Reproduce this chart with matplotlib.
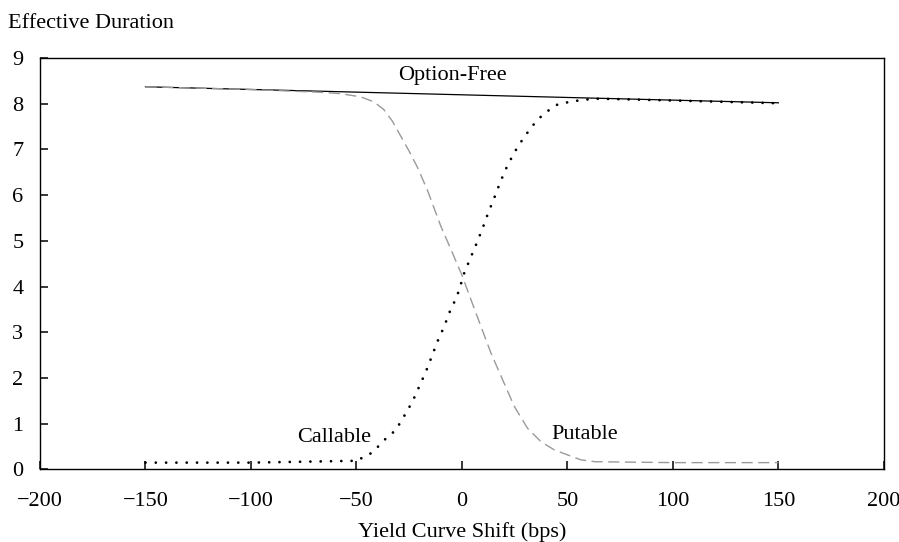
import numpy as np
from matplotlib import pyplot as plt

plt.rcParams['font.family'] = ['Liberation Serif', 'DejaVu Serif']
plt.rcParams['axes.unicode_minus'] = True

# option-free
x_free = [-150, 150]
y_free = [8.37, 8.02]

# callable (dotted)
x_call = [-150, -100, -50, -42.5, -36, -31.4, -27.5, -23.5, -20.3, -17.1, -14.4, -11.6,
          -8.4, -5.7, -2.4, 0, 1.1, 4, 7, 9.9, 12.5, 15.4, 18.2, 21.3, 24.9, 28.9, 33.3,
          38.7, 45.2, 51.9, 60.6, 65, 100, 150]
y_call = [0.15, 0.15, 0.19, 0.37, 0.68, 0.86, 1.16, 1.48, 1.81, 2.14, 2.46, 2.80,
          3.13, 3.46, 3.78, 4.13, 4.30, 4.62, 4.95, 5.29, 5.62, 5.95, 6.29, 6.62, 6.94, 7.23, 7.51,
          7.78, 7.98, 8.05, 8.10, 8.11, 8.07, 8.01]

# putable (dashed grey)
x_put = [-150, -100, -67, -57.6, -48, -41.7, -37, -33, -29, -25, -21, -16.3, -10, -5.2,
         0, 4.3, 9, 13.8, 19.3, 24.8, 31.1, 37.4, 43.7, 50, 56.4, 63, 100, 150]
y_put = [8.37, 8.31, 8.25, 8.22, 8.15, 8.04, 7.87, 7.62, 7.29, 6.96, 6.60, 6.10, 5.32, 4.81,
         4.25, 3.71, 3.13, 2.54, 1.96, 1.38, 0.90, 0.61, 0.43, 0.32, 0.21, 0.17, 0.15, 0.15]

fig = plt.figure(figsize=(8.99, 5.42), dpi=100)
ax = fig.add_axes([0.0445, 0.1338, 0.9387, 0.7592])

ax.plot(x_free, y_free, color='black', lw=0.9)
ax.plot(x_put, y_put, color='#9a9a9a', lw=1.0, linestyle=(0, (8, 4)))
ax.plot(x_call, y_call, color='black', lw=2.0, linestyle=(0, (0.01, 3.7)),
        dash_capstyle='round')

ax.set_xlim(-200, 200)
ax.set_ylim(0, 9)
ax.set_xticks(np.arange(-200, 201, 50))
ax.set_yticks(np.arange(0, 10, 1))
ax.tick_params(direction='in', length=5.5, width=1.1, labelsize=16)
ax.tick_params(axis='x', pad=16)
ax.tick_params(axis='y', pad=12)
for s in ax.spines.values():
    s.set_linewidth(1.0)

ax.text(-4.3, 8.62, 'Option-Free', fontsize=16, ha='center', va='center')
ax.text(-60.5, 0.71, 'Callable', fontsize=16, ha='center', va='center')
ax.text(58.3, 0.76, 'Putable', fontsize=16, ha='center', va='center')

fig.text(8 / 899, 1 - 23 / 542, 'Effective Duration', fontsize=16, ha='left', va='center')
fig.text(462 / 899, 1 - 532 / 542, 'Yield Curve Shift (bps)', fontsize=16, ha='center', va='center')

plt.savefig('out.png', dpi=100)
